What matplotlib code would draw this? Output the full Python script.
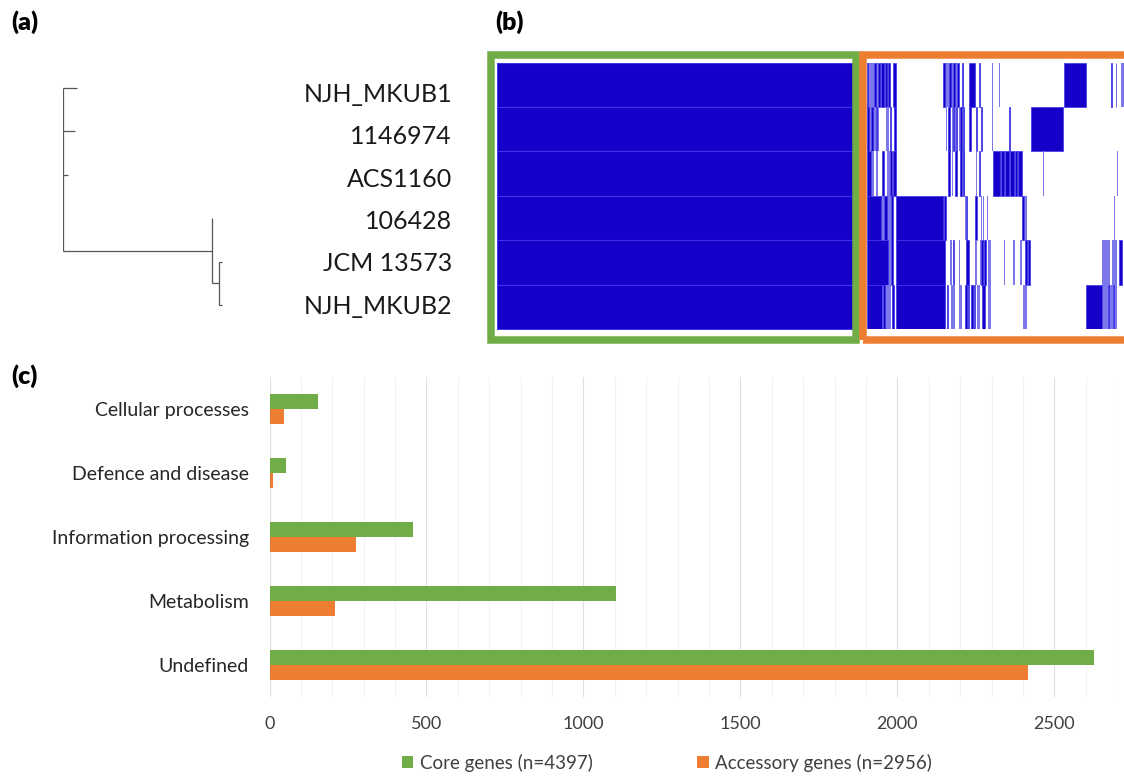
import numpy as np
import matplotlib
matplotlib.use("Agg")
import matplotlib.pyplot as plt
from matplotlib.patches import Rectangle, Patch

plt.rcParams["font.family"] = ["Lato", "DejaVu Sans"]

# ---------------- data ----------------
# (a) tree: (name, branch length) or (children, branch length)
TREE = [
    ("NJH_MKUB1", 0.0014),
    ("1146974", 0.0012),
    ("ACS1160", 0.0005),
    ([("106428", 0.0),
      ([("JCM 13573", 0.00025), ("NJH_MKUB2", 0.00025)], 0.0007)], 0.0149),
]
genomes = ["NJH_MKUB1", "1146974", "ACS1160", "106428", "JCM 13573", "NJH_MKUB2"]

# (b) presence/absence: core block is present in every genome,
# accessory segments as (start, end) in accessory columns
core_cols = 358
acc_offset = 370
acc_dark = [
    [(0, 1.5), (7, 9), (11, 13), (14.5, 17), (18, 20), (21.5, 23), (26, 29.5), (76, 78),
     (82.5, 84), (86, 88), (90.5, 92), (95, 96.5), (102.7, 108), (112.3, 113.3),
     (197.3, 219.5), (244.5, 245.3), (249, 249.8)],
    [(0.7, 2), (4, 6.5), (9, 10), (23, 24.5), (27, 29), (81.3, 83.3), (86.5, 87.5),
     (89, 90), (93, 95.5), (96.5, 97.5), (102.7, 104), (109.3, 110.7), (114, 115.3),
     (142.5, 143.2), (164, 196.7)],
    [(0, 4), (15, 17), (23.5, 25.3), (26.7, 29.3), (81.3, 83.3), (88.7, 90.7),
     (93.3, 95), (96, 97.3), (112.3, 113.2), (126, 133), (134, 137), (138, 142.3),
     (143.2, 147), (148, 150), (151, 155.3)],
    [(0, 14), (17, 20), (24, 26), (29.3, 76), (77.5, 79), (99, 100.7), (108.7, 110.7),
     (155.3, 157.3)],
    [(0, 21.3), (24, 26), (29.3, 78), (86.3, 87.3), (99.3, 102), (114, 116), (117, 119.3),
     (158, 160), (161, 163.3), (252, 255.3)],
    [(0, 15.3), (16.7, 18), (25.3, 27.3), (29.3, 78.7), (80.3, 81.2), (98, 100),
     (101, 102), (104.7, 106.5), (107.5, 108.7), (115.3, 118), (219.3, 235.3),
     (241, 242), (246, 247)],
]
acc_light = [
    [(1.5, 7), (9, 11), (13, 14.5), (17, 18), (20, 21.5), (78, 82.5), (84, 86),
     (88, 90.5), (125, 126), (132.3, 133.2), (254, 257)],
    [(2, 4), (6.5, 9), (10, 12), (19, 22.7), (79, 80), (85.3, 86.5), (87.5, 89),
     (92, 93), (125, 126), (176.3, 177.3)],
    [(5, 7), (9, 11), (20, 23.5), (85.3, 86.7), (97.3, 98.3), (109, 110), (133, 134),
     (137, 138), (142.3, 143.2), (147, 148), (150, 151), (176.3, 177.3), (250.3, 251.3)],
    [(14, 17), (20, 24), (76, 77.5), (98, 99), (114.3, 115.3), (116, 117.3), (120, 121.3),
     (158.7, 160), (247, 248)],
    [(21.3, 24), (83.3, 85.3), (92, 93.3), (108, 110.7), (113.3, 114), (116, 117),
     (121.3, 124), (137, 138), (146, 148), (153.3, 155.3), (160, 161),
     (235.3, 243.3), (245.3, 250)],
    [(18, 22), (22, 24), (84, 88.7), (92.7, 95.3), (100, 101), (106.5, 107.5),
     (110.7, 113.3), (121.3, 124), (156.7, 160), (236.7, 241), (242, 246), (247, 250.7)],
]

# (c) functional categories
categories = ["Cellular processes", "Defence and disease", "Information processing",
              "Metabolism", "Undefined"]
core_counts = [155, 52, 458, 1105, 2627]
acc_counts = [45, 12, 274, 210, 2415]
n_core = 4397
n_acc = 2956

GREEN = "#70AD47"
ORANGE = "#ED7D31"
BLUE = "#1400C8"
BLUE_EDGE = "#3b33e8"
BLUE_LIGHT = "#7c78ec"

W, H = 1124, 776
fig = plt.figure(figsize=(W / 100, H / 100), dpi=100)


def px_axes(x0, y0, x1, y1):
    # axes from pixel box (top-left origin)
    return fig.add_axes([x0 / W, 1 - y1 / H, (x1 - x0) / W, (y1 - y0) / H])


# ---------------- (a) tree ----------------
ax_t = px_axes(63, 66.3, 263, 326.7)
ax_t.set_xlim(0, 0.02)
ax_t.set_ylim(5.5, -0.5)
ax_t.axis("off")
leaf_idx = {g: i for i, g in enumerate(genomes)}
tree_kw = dict(color="#555555", lw=0.9, solid_capstyle="butt")


def draw(children, x0):
    ys = []
    for sub, blen in children:
        x1 = x0 + blen
        y = leaf_idx[sub] if isinstance(sub, str) else draw(sub, x1)
        ax_t.plot([x0, x1], [y, y], **tree_kw)
        ys.append(y)
    ax_t.plot([x0, x0], [min(ys), max(ys)], **tree_kw)
    return (ys[0] + ys[-1]) / 2


draw(TREE, 0)

ax_l = px_axes(280, 71.3, 452, 325.2)
ax_l.set_xlim(0, 1)
ax_l.set_ylim(5.5, -0.5)
ax_l.axis("off")
for i, g in enumerate(genomes):
    ax_l.text(1, i, g, ha="right", va="center_baseline", fontsize=18, color="#1a1a1a")

# ---------------- (b) presence / absence ----------------
ax_h = px_axes(496.7, 62.7, 1124, 329)
ax_h.set_xlim(0, 627.3)
ax_h.set_ylim(len(genomes), 0)
ax_h.axis("off")
for r in range(len(genomes)):
    ax_h.broken_barh([(0, core_cols)], (r, 1), facecolors=BLUE,
                     edgecolor=BLUE_EDGE, linewidth=0.8)
    ax_h.broken_barh([(acc_offset + a, b - a) for a, b in acc_light[r]], (r, 1),
                     facecolors=BLUE_LIGHT, edgecolor="none")
    ax_h.broken_barh([(acc_offset + a, b - a) for a, b in acc_dark[r]], (r, 1),
                     facecolors=BLUE, edgecolor=BLUE_EDGE, linewidth=0.5)


def px_rect(x0, y0, x1, y1, color):
    fig.add_artist(Rectangle((x0 / W, 1 - y1 / H), (x1 - x0) / W, (y1 - y0) / H,
                             transform=fig.transFigure, fill=False,
                             edgecolor=color, linewidth=5.4, joinstyle="miter"))


px_rect(491, 54.5, 855.5, 339.5, GREEN)
px_rect(862.7, 54.5, 1140, 339.5, ORANGE)

# ---------------- (c) bars ----------------
ax = px_axes(269.5, 376.7, 1117.1, 696.7)
y = np.arange(len(categories))
bh = 0.234
ax.barh(y - bh / 2, core_counts, height=bh, color=GREEN, zorder=3)
ax.barh(y + bh / 2, acc_counts, height=bh, color=ORANGE, zorder=3)
ax.set_xlim(0, 2700)
ax.set_ylim(len(categories) - 0.5, -0.5)
ax.set_yticks(y)
ax.set_yticklabels(categories, fontsize=14, color="#262626")
ax.set_xticks(np.arange(0, 2501, 500))
ax.set_xticks(np.arange(0, 2701, 100), minor=True)
ax.tick_params(axis="x", which="both", length=0, pad=14, labelsize=13, labelcolor="#404040")
ax.tick_params(axis="y", length=0, pad=15)
ax.grid(axis="x", which="minor", color="#f2f2f2", linewidth=0.8, zorder=0)
ax.grid(axis="x", which="major", color="#e0e0e0", linewidth=0.8, zorder=0)
for s in ax.spines.values():
    s.set_visible(False)

handles = [Patch(facecolor=GREEN, label=f"Core genes (n={n_core})"),
           Patch(facecolor=ORANGE, label=f"Accessory genes (n={n_acc})")]
leg = fig.legend(handles=handles, loc="center", bbox_to_anchor=(667 / W, 1 - 763 / H),
                 ncol=2, frameon=False, fontsize=13.5, handlelength=0.6,
                 handleheight=0.6, handletextpad=0.35, columnspacing=5.6)
for t in leg.get_texts():
    t.set_color("#404040")

# panel labels
for lab, (px, py) in {"(a)": (11, 22), "(b)": (495, 22), "(c)": (11, 376)}.items():
    fig.text(px / W, 1 - py / H, lab, fontsize=18, fontweight="heavy",
             ha="left", va="center")

fig.savefig("out.png", dpi=100)
